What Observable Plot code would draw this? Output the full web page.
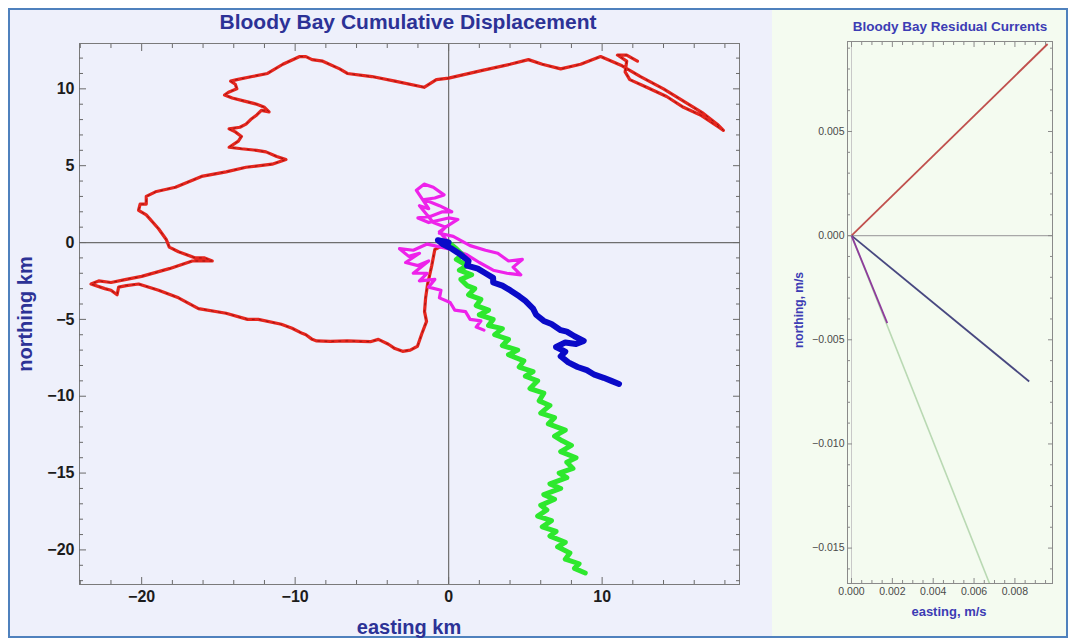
<!DOCTYPE html>
<html><head><meta charset="utf-8">
<script src="https://cdn.jsdelivr.net/npm/d3@7"></script>
<script src="https://cdn.jsdelivr.net/npm/@observablehq/plot@0.6"></script>
<style>
body{margin:0;background:#fff;font-family:"Liberation Sans",Arial,sans-serif;}
#page{position:relative;width:1070px;height:641px;overflow:hidden;background:#fff;}
#leftbg{position:absolute;left:10px;top:10px;width:762px;height:626px;background:#eef0fb;}
#rightbg{position:absolute;left:772px;top:10px;width:294px;height:626px;background:#f4fbf0;}
#border{position:absolute;left:8px;top:8px;width:1056px;height:626px;border:2px solid #4f81bd;}
.chart{position:absolute;top:0;}
.lbl{position:absolute;white-space:nowrap;font-weight:bold;transform:translate(-50%,-50%);line-height:1;}
.rot{transform:translate(-50%,-50%) rotate(-90deg);}
</style></head>
<body>
<div id="page">
  <div id="leftbg"></div>
  <div id="rightbg"></div>
  <div id="border"></div>
  <div id="left" class="chart" style="left:0px"></div>
  <div id="right" class="chart" style="left:772px"></div>
  <div class="lbl" style="left:408px;top:21px;font-size:21px;color:#2c3296">Bloody Bay Cumulative Displacement</div>
  <div class="lbl rot" style="left:25px;top:314px;font-size:20px;color:#2c3296">northing km</div>
  <div class="lbl" style="left:409px;top:627px;font-size:20px;color:#2c3296">easting km</div>
  <div class="lbl" style="left:950px;top:27px;font-size:13.5px;color:#3c3cb4">Bloody Bay Residual Currents</div>
  <div class="lbl rot" style="left:799px;top:310px;font-size:12px;color:#3c3cb4">northing, m/s</div>
  <div class="lbl" style="left:949px;top:611px;font-size:13px;color:#3c3cb4">easting, m/s</div>
</div>
<script>
// ---- data: cumulative displacement tracks [easting km, northing km]
const redTrack = [
[0,0],[-0.4,-0.2],[-0.9,-0.45],[-1.1,-1.5],[-1.37,-2.7],[-1.5,-3.6],[-1.57,-4.5],[-1.44,-5.13],[-1.76,-5.97],[-2.03,-6.75],[-2.5,-7.0],[-3.0,-7.08],[-3.5,-6.9],[-3.92,-6.62],[-4.58,-6.3],[-5.1,-6.45],[-5.69,-6.43],[-6.6,-6.4],[-7.71,-6.43],[-8.6,-6.4],[-8.89,-6.3],[-9.3,-6.0],[-9.54,-5.91],[-10.2,-5.58],[-10.9,-5.32],[-12.4,-5.0],[-13.1,-5.0],[-14.5,-4.6],[-16.3,-4.3],[-17.6,-3.6],[-18.9,-3.1],[-20.2,-2.7],[-21.0,-2.8],[-21.5,-2.9],[-21.6,-3.4],[-22.0,-3.1],[-22.4,-3.0],[-23.3,-2.7],[-22.8,-2.5],[-22.0,-2.6],[-21.0,-2.4],[-20.0,-2.2],[-18.2,-1.7],[-16.7,-1.2],[-15.4,-1.2],[-15.9,-1.0],[-16.5,-1.0],[-17.6,-0.6],[-18.2,-0.3],[-18.4,0.2],[-18.9,0.9],[-19.7,1.8],[-20.2,2.1],[-20.1,2.5],[-19.7,2.5],[-19.7,3.0],[-19.1,3.3],[-17.8,3.6],[-16.1,4.3],[-14.5,4.6],[-13.2,4.9],[-11.5,5.1],[-10.6,5.4],[-11.2,5.6],[-11.9,5.9],[-12.5,6.0],[-13.5,6.1],[-14.3,6.2],[-13.7,6.6],[-13.5,6.9],[-13.9,7.2],[-14.3,7.4],[-13.6,7.5],[-13.2,7.7],[-12.9,8.0],[-12.5,8.3],[-12.2,8.6],[-11.7,8.5],[-12.0,8.8],[-12.5,9.0],[-13.3,9.2],[-14.1,9.4],[-14.6,9.6],[-14.3,9.8],[-13.8,10.0],[-13.9,10.3],[-14.2,10.5],[-13.8,10.6],[-12.8,10.8],[-11.8,11.0],[-10.8,11.6],[-9.7,12.1],[-9.3,12.1],[-8.9,11.9],[-8.2,11.8],[-7.1,11.3],[-6.6,11.0],[-5.0,10.8],[-3.5,10.5],[-1.6,10.1],[-0.8,10.6],[0,10.7],[2.2,11.2],[4.0,11.6],[5.2,11.9],[6.1,11.6],[7.3,11.3],[8.6,11.6],[9.9,12.1],[11.3,11.5],[12.5,10.8],[14.0,10.0],[15.3,9.2],[16.6,8.4],[17.5,7.7],[17.9,7.3],[17.6,7.5],[16.4,8.3],[15.3,8.8],[14.2,9.5],[12.9,10.1],[11.8,10.6],[11.5,11.1],[11.6,11.8],[11.0,12.2],[11.6,12.2],[12.3,11.8]
];
const magentaTrack = [
[0,0],[-0.6,0.7],[-0.2,1.0],[-1.0,1.3],[-1.9,2.4],[-1.3,2.2],[-2.1,3.4],[-1.6,3.8],[-1.0,3.6],[-0.3,3.1],[-0.9,2.9],[-1.6,2.8],[-0.6,2.4],[0.2,2.0],[-0.4,2.0],[-1.2,1.7],[-2.0,1.6],[-1.3,1.3],[0.0,1.6],[0.6,1.5],[-0.2,1.0],[-0.6,0.6],[0.3,0.4],[1.4,-0.2],[2.4,-0.5],[3.2,-0.7],[3.9,-1.2],[4.8,-1.1],[4.2,-1.6],[4.7,-2.1],[3.8,-2.0],[2.9,-1.8],[2.0,-1.3],[1.2,-0.8],[0.4,-0.5],[-0.5,-0.3],[-1.4,-0.1],[-2.3,-0.5],[-3.2,-0.4],[-2.6,-0.9],[-1.9,-0.7],[-2.8,-1.3],[-2.0,-1.5],[-1.3,-1.2],[-2.3,-2.0],[-1.4,-2.0],[-1.9,-2.5],[-0.9,-2.4],[-1.3,-2.9],[-0.5,-3.1],[-0.6,-3.6],[0.1,-3.9],[0.4,-4.4],[1.1,-4.5],[1.4,-5.0],[2.1,-5.1],[1.8,-5.5],[2.3,-5.7]
];
const greenTrack = [
[0,0],[0.5,-0.4],[0.9,-0.8],[0.5,-1.1],[1.2,-1.5],[0.7,-1.8],[1.5,-2.1],[0.8,-2.4],[1.2,-2.8],[1.7,-3.0],[1.3,-3.4],[2.1,-3.7],[1.8,-4.1],[2.6,-4.4],[2.0,-4.7],[2.9,-5.0],[2.6,-5.4],[3.5,-5.6],[3.0,-6.0],[3.9,-6.3],[3.5,-6.7],[4.5,-7.0],[3.9,-7.3],[4.9,-7.7],[4.6,-8.1],[5.5,-8.4],[5.0,-8.7],[5.8,-9.0],[5.3,-9.5],[6.2,-9.8],[5.9,-10.3],[6.6,-10.6],[6.0,-11.1],[6.9,-11.4],[6.5,-11.8],[7.6,-12.2],[6.9,-12.6],[7.4,-12.9],[8.0,-13.2],[7.3,-13.6],[8.3,-14.0],[7.7,-14.3],[8.1,-14.7],[7.2,-15.0],[7.7,-15.3],[6.6,-15.7],[7.3,-16.0],[6.2,-16.4],[6.9,-16.7],[6.0,-17.1],[6.4,-17.4],[5.8,-17.8],[6.7,-18.1],[6.1,-18.5],[7.0,-18.8],[6.6,-19.1],[7.6,-19.5],[7.1,-19.8],[7.9,-20.2],[7.6,-20.6],[8.5,-20.9],[8.2,-21.2],[8.9,-21.5]
];
const blueTrack = [
[0,0],[-0.7,0.15],[-0.4,-0.1],[0.2,-0.4],[0.8,-0.8],[1.3,-1.2],[1.2,-1.5],[1.9,-1.7],[2.4,-2.0],[2.9,-2.3],[2.9,-2.6],[3.5,-2.8],[4.0,-3.1],[4.6,-3.5],[5.0,-3.8],[5.5,-4.3],[5.7,-4.7],[6.2,-5.1],[6.7,-5.3],[7.3,-5.7],[7.7,-5.8],[8.2,-6.1],[8.8,-6.4],[8.3,-6.6],[7.6,-6.5],[7.0,-6.8],[7.6,-7.1],[7.3,-7.4],[7.8,-7.8],[8.4,-8.1],[9.0,-8.3],[9.5,-8.6],[10.1,-8.8],[10.6,-9.0],[11.1,-9.2]
];
const xTicksKm = [-20,-10,0,10];
const yTicksKm = [-20,-15,-10,-5,0,5,10];

// ---- data: residual currents (m/s)
const residualNames = ["red","magenta","blue","green"];
const residualEast  = [0.0096, 0.00175, 0.0087, 0.0070];
const residualNorth = [0.0092, -0.0042, -0.0070, -0.0173];
const xTicksRes = [0, 0.002, 0.004, 0.006, 0.008];
const yTicksRes = [-0.015, -0.010, -0.005, 0, 0.005];

// ---- styles
const trackColor = {red:"#e5261e", magenta:"#ee22ea", green:"#2ee82e", blue:"#0a0ac8"};
const resColor = {red:"#c0504d", magenta:"#8e3c9c", blue:"#484880", green:"#b9d9b3"};

const fmtKm = d3.format("d");
const fmtRes = d3.format(".3f");
const range = (a,b,s) => d3.range(Math.round(a/s), Math.round(b/s)+1).map(k => +(k*s).toFixed(6));

const xMinorKm = range(-24, 18, 2).filter(v => !xTicksKm.includes(v));
const yMinorKm = range(-22, 12, 1).filter(v => !yTicksKm.includes(v));

function frameAxes(xMaj, xMin, yMaj, yMin, xFmt, yFmt, o) {
  const tick = {stroke: o.tickColor, label: null};
  const txt = {fill: o.textColor, fontSize: o.fontSize, fontWeight: o.fontWeight};
  return [
    Plot.axisX(xMaj, {...tick, ...txt, anchor:"bottom", tickSize:-o.major, tickPadding:o.major + o.xPad, tickFormat:xFmt}),
    Plot.axisX(xMin, {...tick, anchor:"bottom", tickSize:-o.minor, tickFormat:()=>""}),
    Plot.axisX(xMaj, {...tick, anchor:"top", tickSize:-o.major, tickFormat:()=>""}),
    Plot.axisX(xMin, {...tick, anchor:"top", tickSize:-o.minor, tickFormat:()=>""}),
    Plot.axisY(yMaj, {...tick, ...txt, anchor:"left", tickSize:-o.major, tickPadding:o.major + o.yPad, tickFormat:yFmt}),
    Plot.axisY(yMin, {...tick, anchor:"left", tickSize:-o.minor, tickFormat:()=>""}),
    Plot.axisY(yMaj, {...tick, anchor:"right", tickSize:-o.major, tickFormat:()=>""}),
    Plot.axisY(yMin, {...tick, anchor:"right", tickSize:-o.minor, tickFormat:()=>""})
  ];
}

const track = (data, color, w) => Plot.line(data, {x: d => d[0], y: d => d[1], stroke: color, strokeWidth: w, strokeLinejoin:"round", strokeLinecap:"round"});

const left = Plot.plot({
  width: 770, height: 641,
  marginLeft: 79, marginRight: 31, marginTop: 43, marginBottom: 57,
  x: {domain: [-24.05, 18.95]},
  y: {domain: [-22.25, 12.95]},
  style: {background: "transparent", fontFamily: "Liberation Sans, Arial, sans-serif"},
  marks: [
    Plot.ruleX([0], {stroke: "#6e6e6e", strokeWidth: 1.2}),
    Plot.ruleY([0], {stroke: "#6e6e6e", strokeWidth: 1.2}),
    track(redTrack, trackColor.red, 3.2),
    Plot.line(redTrack, {x: d => d[0], y: d => d[1], stroke: "#9a1410", strokeWidth: 1, strokeDasharray: "2,5"}),
    track(magentaTrack, trackColor.magenta, 3.2),
    track(greenTrack, trackColor.green, 5),
    track(blueTrack, trackColor.blue, 6),
    Plot.frame({stroke: "#7a7a7a"}),
    ...frameAxes(xTicksKm, xMinorKm, yTicksKm, yMinorKm, fmtKm, fmtKm,
      {tickColor:"#6a6a6a", textColor:"#1c1c1c", fontSize:16, fontWeight:"bold", major:7, minor:4, xPad:6, yPad:5})
  ]
});
document.getElementById("left").append(left);

const residuals = residualNames.map((name, i) => ({name, e: residualEast[i], n: residualNorth[i]}));
const order = ["green","red","blue","magenta"];
const xMinorRes = range(0, 0.0095, 0.0005).filter(v => !xTicksRes.some(t => Math.abs(t-v) < 1e-9));
const yMinorRes = range(-0.016, 0.009, 0.001).filter(v => !yTicksRes.some(t => Math.abs(t-v) < 1e-9));

const right = Plot.plot({
  width: 296, height: 641,
  marginLeft: 75, marginRight: 16, marginTop: 41, marginBottom: 58,
  x: {domain: [-0.000196, 0.00984]},
  y: {domain: [-0.0167, 0.00932]},
  style: {background: "transparent", fontFamily: "Liberation Sans, Arial, sans-serif"},
  marks: [
    Plot.ruleY([0], {stroke: "#a8a8a8", strokeWidth: 1.2}),
    Plot.ruleX([0], {stroke: "#c8c8c8", strokeWidth: 1}),
    ...order.map(name => Plot.link(residuals.filter(d => d.name === name), {
      x1: () => 0, y1: () => 0, x2: "e", y2: "n",
      stroke: resColor[name], strokeWidth: name === "green" ? 1.6 : 1.8, clip: true
    })),
    Plot.frame({stroke: "#8a8a8a"}),
    ...frameAxes(xTicksRes, xMinorRes, yTicksRes, yMinorRes, fmtRes, fmtRes,
      {tickColor:"#8a8a8a", textColor:"#4a4a4a", fontSize:10.5, fontWeight:"normal", major:5, minor:3, xPad:4, yPad:3})
  ]
});
document.getElementById("right").append(right);
</script>
</body></html>
